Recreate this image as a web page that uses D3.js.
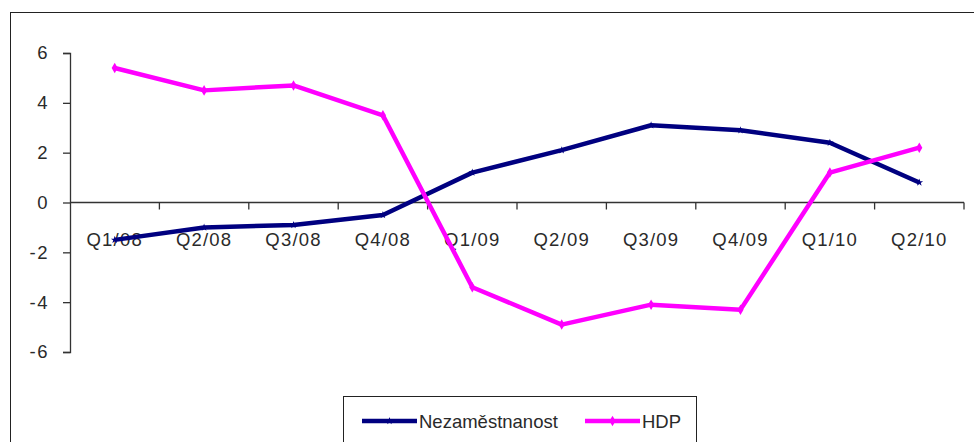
<!DOCTYPE html>
<html>
<head>
<meta charset="utf-8">
<script src="https://cdnjs.cloudflare.com/ajax/libs/d3/7.8.5/d3.min.js"></script>
<style>
    body { margin: 0; background: #fff; }
    text { font-family: "Liberation Sans", Arial, sans-serif; fill: #2a2a2a; }
</style>
</head>
<body>
<div id="chart"></div>
<script>
var quarters = ["Q1/08", "Q2/08", "Q3/08", "Q4/08", "Q1/09", "Q2/09", "Q3/09", "Q4/09", "Q1/10", "Q2/10"];
var nezamestnanost = [-1.5, -1.0, -0.9, -0.5, 1.2, 2.1, 3.1, 2.9, 2.4, 0.8];
var hdp = [5.4, 4.5, 4.7, 3.5, -3.4, -4.9, -4.1, -4.3, 1.2, 2.2];
var yTicks = [-6, -4, -2, 0, 2, 4, 6];
var seriesNames = ["Nezaměstnanost", "HDP"];
var seriesColours = ["#000080", "#ff00ff"];

var totalWidth = 974, totalHeight = 442;
var margin = { top: 53, left: 70 };
var width = 894, height = 299;

var svg = d3.select("#chart").append("svg")
    .attr("width", totalWidth)
    .attr("height", totalHeight);

// outer frame of the chart area
svg.append("rect")
    .attr("x", 10.5).attr("y", 12.5)
    .attr("width", 980).attr("height", 460)
    .attr("fill", "none")
    .attr("stroke", "#222")
    .attr("stroke-width", 1);

var g = svg.append("g")
    .attr("transform", "translate(" + margin.left + "," + margin.top + ")");

// Scales
var x = d3.scaleBand()
    .domain(quarters)
    .range([0, width]);

var y = d3.scaleLinear()
    .domain([-6, 6])
    .range([height, 0]);

// Y axis
var yAxis = d3.axisLeft(y)
    .tickValues(yTicks)
    .tickSize(7)
    .tickPadding(14)
    .tickFormat(function(d) { return String(d); });

var yAxisGroup = g.append("g")
    .attr("class", "y-axis")
    .call(yAxis);
yAxisGroup.select(".domain").attr("stroke", "#333").attr("stroke-width", 1.3);
yAxisGroup.selectAll(".tick line").attr("stroke", "#333").attr("stroke-width", 1.3);
yAxisGroup.selectAll(".tick text")
    .attr("font-size", "18.5px")
    .attr("font-family", "Liberation Sans, Arial, sans-serif")
    .attr("fill", "#2a2a2a")
    .style("letter-spacing", "1.5px");

// X axis at zero, with ticks between categories
var xAxisGroup = g.append("g")
    .attr("class", "x-axis")
    .attr("transform", "translate(0," + y(0) + ")");

xAxisGroup.append("line")
    .attr("x1", 0).attr("x2", width)
    .attr("y1", 0).attr("y2", 0)
    .attr("stroke", "#333").attr("stroke-width", 1.3);

xAxisGroup.selectAll(".xtick")
    .data(quarters)
    .enter().append("line")
    .attr("class", "xtick")
    .attr("x1", function(d) { return x(d) + x.bandwidth(); })
    .attr("x2", function(d) { return x(d) + x.bandwidth(); })
    .attr("y1", 0).attr("y2", 7)
    .attr("stroke", "#333").attr("stroke-width", 1.3);

xAxisGroup.selectAll(".xlabel")
    .data(quarters)
    .enter().append("text")
    .attr("class", "xlabel")
    .attr("x", function(d) { return x(d) + x.bandwidth() / 2; })
    .attr("y", 43)
    .attr("text-anchor", "middle")
    .attr("font-size", "18.5px")
    .style("letter-spacing", "1.2px")
    .text(function(d) { return d; });

// Lines
var line = d3.line()
    .x(function(d, i) { return x(quarters[i]) + x.bandwidth() / 2; })
    .y(function(d) { return y(d); });

var allSeries = [nezamestnanost, hdp];
var markers = [d3.symbolStar, d3.symbolDiamond];
var markerSize = [18, 32];

allSeries.forEach(function(values, k) {
    g.append("path")
        .attr("fill", "none")
        .attr("stroke", seriesColours[k])
        .attr("stroke-width", 4.5)
        .attr("stroke-linejoin", "round")
        .attr("d", line(values));

    g.selectAll(".marker" + k)
        .data(values)
        .enter().append("path")
        .attr("class", "marker" + k)
        .attr("transform", function(d, i) {
            return "translate(" + (x(quarters[i]) + x.bandwidth() / 2) + "," + y(d) + ")";
        })
        .attr("d", d3.symbol().type(markers[k]).size(markerSize[k]))
        .attr("fill", seriesColours[k]);
});

// Legend
var legend = svg.append("g")
    .attr("transform", "translate(343,396)");

legend.append("rect")
    .attr("x", 0.5).attr("y", 0.5)
    .attr("width", 353).attr("height", 60)
    .attr("fill", "#fff")
    .attr("stroke", "#222")
    .attr("stroke-width", 1);

var legendX = [19, 242];
seriesNames.forEach(function(name, k) {
    var lg = legend.append("g")
        .attr("transform", "translate(" + legendX[k] + ",25)");
    lg.append("line")
        .attr("x1", 0).attr("x2", 55)
        .attr("y1", 0).attr("y2", 0)
        .attr("stroke", seriesColours[k])
        .attr("stroke-width", 4.5);
    lg.append("path")
        .attr("transform", "translate(27.5,0)")
        .attr("d", d3.symbol().type(markers[k]).size(markerSize[k]))
        .attr("fill", seriesColours[k]);
    lg.append("text")
        .attr("x", 57)
        .attr("y", 6.5)
        .attr("font-size", "18.5px")
        .text(name);
});
</script>
</body>
</html>
